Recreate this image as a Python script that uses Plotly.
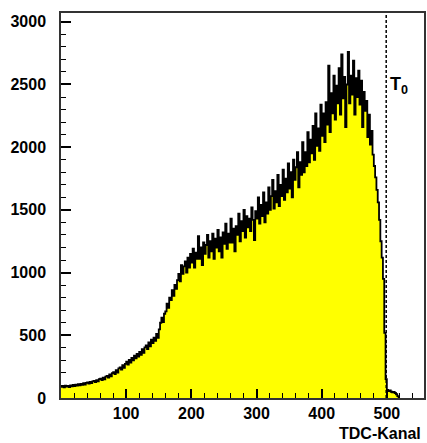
import plotly.graph_objects as go

# TDC channel histogram: 2 channels per bin, counts per bin
bin_width = 2
n_bins = 260
counts = [
    88, 95, 84, 98, 90,
    96, 87, 101, 92, 104,
    95, 106, 98, 111, 100,
    113, 104, 118, 107, 121,
    124, 114, 129, 118, 133,
    137, 126, 143, 133, 150,
    154, 143, 162, 149, 171,
    176, 162, 188, 172, 198,
    206, 190, 222, 202, 236,
    244, 226, 262, 240, 272,
    290, 266, 304, 282, 320,
    300, 338, 316, 352, 330,
    368, 344, 390, 360, 404,
    420, 390, 444, 412, 466,
    438, 482, 456, 512, 480,
    548, 600, 640, 605, 672,
    690, 752, 718, 800, 780,
    860, 815, 902, 870, 940,
    990, 930, 1060, 990, 1050,
    1090, 1000, 1120, 1040, 1150,
    1080, 1190, 1040, 1160, 1110,
    1290, 1110, 1200, 1060, 1240,
    1150, 1220, 1300, 1120, 1250,
    1170, 1310, 1110, 1270, 1200,
    1340, 1170, 1280, 1120, 1320,
    1230, 1390, 1190, 1310, 1240,
    1430, 1240, 1350, 1170, 1370,
    1300, 1470, 1250, 1410, 1330,
    1500, 1280, 1450, 1360, 1430,
    1330, 1520, 1420, 1260, 1490,
    1430, 1600, 1390, 1540, 1450,
    1640, 1400, 1560, 1470, 1680,
    1500, 1610, 1740, 1510, 1650,
    1560, 1780, 1530, 1700, 1610,
    1820, 1580, 1750, 1640, 1870,
    1670, 1800, 1600, 1900, 1740,
    1840, 1960, 1680, 1880, 1780,
    2040, 1800, 1960, 1850, 2120,
    1880, 2060, 1950, 2170, 1900,
    2270, 2010, 2150, 1970, 2340,
    2090, 2270, 2040, 2360, 2180,
    2650, 2120, 2430, 2270, 2570,
    2220, 2490, 2350, 2630, 2260,
    2740, 2390, 2560, 2160, 2500,
    2760, 2350, 2570, 2420, 2690,
    2260, 2550, 2400, 2610, 2340,
    2530, 2160, 2440, 2290, 2370,
    2080, 2260, 2020, 2130, 1940,
    1850, 1760, 1660, 1560, 1420,
    1250, 1120, 950, 520, 150,
    65, 55, 60, 50, 45,
    48, 40, 30, 15, 0,
]

x_ticks = [100, 200, 300, 400, 500]
y_ticks = [0, 500, 1000, 1500, 2000, 2500, 3000]
t0_channel = 499
x_title = "TDC-Kanal"
t0_label = "<b>T<sub>0</sub></b>"

bin_starts = [i * bin_width for i in range(n_bins)]
step_x = bin_starts + [bin_starts[-1] + bin_width]
step_y = counts + [counts[-1]]

fig = go.Figure()
fig.add_trace(go.Scatter(
    x=step_x, y=step_y, mode="lines",
    line=dict(shape="hv", color="black", width=1.8),
    fill="tozeroy", fillcolor="#ffff00",
    hoverinfo="skip", showlegend=False,
))

font_family = "Liberation Sans, Arial, sans-serif"

fig.update_layout(
    width=427, height=443,
    margin=dict(l=61, r=1, t=13, b=45),
    paper_bgcolor="white", plot_bgcolor="white",
    showlegend=False,
    font=dict(family=font_family, size=16, color="black"),
)
fig.update_xaxes(
    range=[0, 557], tickvals=x_ticks, ticks="inside", ticklen=9, tickwidth=1.5,
    tickcolor="black", showgrid=False, zeroline=False,
    showline=True, linecolor="#333333", linewidth=1.5, mirror=True,
    tickfont=dict(family=font_family, size=16, color="black", weight="bold"),
    minor=dict(dtick=20, tick0=0, ticks="inside", ticklen=5, tickcolor="black", tickwidth=1, showgrid=False),
)
fig.update_yaxes(
    range=[0, 3070], tickvals=y_ticks, ticks="inside", ticklen=10, tickwidth=1.5,
    tickcolor="black", showgrid=False, zeroline=False,
    showline=True, linecolor="#333333", linewidth=1.5, mirror=True,
    tickfont=dict(family=font_family, size=16, color="black", weight="bold"),
    ticklabelstandoff=10,
    minor=dict(dtick=100, tick0=0, ticks="inside", ticklen=5, tickcolor="black", tickwidth=1, showgrid=False),
)

fig.add_shape(type="line", x0=t0_channel, x1=t0_channel, y0=0, y1=1,
              xref="x", yref="paper",
              line=dict(color="black", width=1.5, dash="3px,2px"))

fig.add_annotation(x=t0_channel + 3, y=2490, xref="x", yref="y", text=t0_label,
                   showarrow=False, xanchor="left", yanchor="middle",
                   font=dict(family=font_family, size=18, color="black"))

fig.add_annotation(x=1, y=0, xref="paper", yref="paper", text="<b>" + x_title + "</b>",
                   showarrow=False, xanchor="right", yanchor="bottom", yshift=-45, xshift=-2,
                   borderpad=0,
                   font=dict(family=font_family, size=16, color="black"))

fig.write_html("out.html")
